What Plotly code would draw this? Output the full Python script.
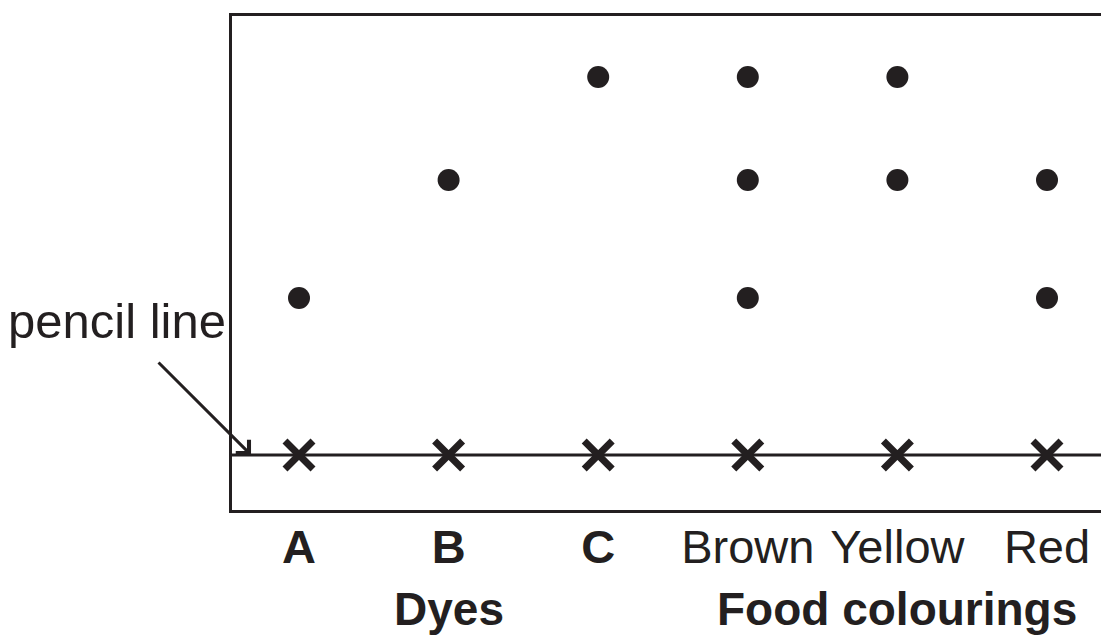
import plotly.graph_objects as go

# ---- data ----
dyes = ["A", "B", "C"]
food_colourings = ["Brown", "Yellow", "Red"]
categories = dyes + food_colourings

# spot positions (distance above the pencil line, arbitrary units)
spot_category = ["A", "B", "C", "Brown", "Brown", "Brown", "Yellow", "Yellow", "Red", "Red"]
spot_distance = [15.7, 27.5, 37.8, 15.7, 27.5, 37.8, 27.5, 37.8, 15.7, 27.5]

# starting positions (on the pencil line)
start_distance = [0, 0, 0, 0, 0, 0]

INK = "#231f20"
FONT = "Liberation Sans, Arial, sans-serif"

fig = go.Figure()

fig.add_trace(go.Scatter(
    x=categories, y=start_distance, mode="markers",
    marker=dict(symbol="x-thin", size=28, line=dict(width=7, color=INK), color=INK),
    hoverinfo="skip", showlegend=False,
))

fig.add_trace(go.Scatter(
    x=spot_category, y=spot_distance, mode="markers",
    marker=dict(symbol="circle", size=22, color=INK, line=dict(width=0)),
    hoverinfo="skip", showlegend=False,
))

# pencil line
fig.add_shape(type="line", xref="paper", x0=0, x1=1, yref="y", y0=0, y1=0,
              line=dict(color=INK, width=3), layer="below")

ticktext = [f"<b>{c}</b>" for c in dyes] + food_colourings

fig.update_layout(
    width=1101, height=635, autosize=False,
    margin=dict(l=232, r=0, t=16, b=125, pad=0),
    plot_bgcolor="white", paper_bgcolor="white",
    font=dict(family=FONT, color=INK, size=46),
    xaxis=dict(
        type="category", categoryorder="array", categoryarray=categories,
        range=[-0.4479, 5.361],
        showline=True, linewidth=3, linecolor=INK, mirror=True,
        showgrid=False, zeroline=False, ticks="",
        tickvals=categories, ticktext=ticktext,
        tickfont=dict(family=FONT, size=47, color=INK),
        ticklabelstandoff=-6,
        fixedrange=True,
    ),
    yaxis=dict(
        range=[-5.5, 43.9],
        showline=True, linewidth=3, linecolor=INK, mirror=False,
        showgrid=False, zeroline=False, showticklabels=False, ticks="",
        fixedrange=True,
    ),
)

# group labels centred under the middle category of each group
fig.add_annotation(x=dyes[len(dyes) // 2], xref="x", y=-0.2, yref="paper",
                   text="<b>Dyes</b>", showarrow=False, yanchor="middle", borderpad=0,
                   font=dict(family=FONT, size=46, color=INK))
fig.add_annotation(x=food_colourings[len(food_colourings) // 2], xref="x", y=-0.2, yref="paper",
                   text="<b>Food colourings</b>", showarrow=False, yanchor="middle", borderpad=0,
                   font=dict(family=FONT, size=46, color=INK))

# pencil line label and arrow
fig.add_annotation(x=-0.0046, xref="paper", y=13.4, yref="y",
                   text="pencil line", showarrow=False, xanchor="right", yanchor="middle",
                   font=dict(family=FONT, size=49, color=INK))
fig.add_annotation(x=0.0219, xref="paper", y=0, yref="y", text="",
                   showarrow=True, ax=-94, ay=-94, arrowhead=4, arrowwidth=3,
                   arrowsize=1.2, arrowcolor=INK, standoff=0)

fig.write_html("out.html", config={"displayModeBar": False},
               post_script="document.body.style.margin='0';document.body.style.overflow='hidden';")
